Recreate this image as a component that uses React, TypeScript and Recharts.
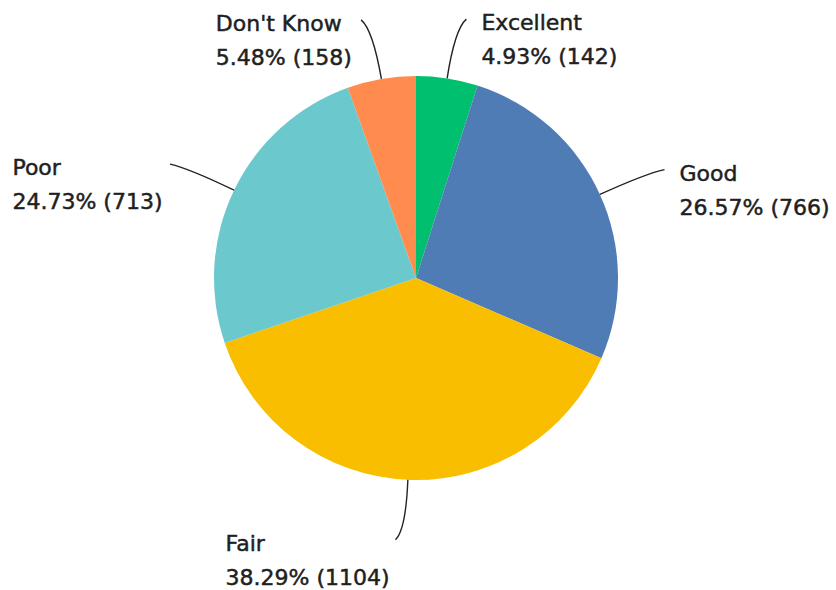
import { PieChart, Pie, Cell } from 'recharts';

const NAMES = ['Excellent', 'Good', 'Fair', 'Poor', "Don't Know"];
const COUNTS = [142, 766, 1104, 713, 158];
const COLORS = ['#00BF6F', '#507CB6', '#F9BE00', '#6BC8CD', '#FF8B4F'];

const data = NAMES.map((name, i) => ({ name, value: COUNTS[i] }));

const RAD = Math.PI / 180;
const FONT = '"DejaVu Sans", sans-serif';

// rough text width so left-side blocks can end near the connector
function approxWidth(s: string): number {
  return s.length * 12.3;
}

function renderLabel(props: any) {
  const { cx, cy, midAngle, outerRadius, name, value, percent } = props;
  const dx = Math.cos(-midAngle * RAD);
  const dy = Math.sin(-midAngle * RAD);
  const right = dx >= 0;
  const p0 = { x: cx + outerRadius * dx, y: cy + outerRadius * dy };
  const c = { x: cx + (outerRadius + 50) * dx, y: cy + (outerRadius + 50) * dy };
  const end = {
    x: cx + (outerRadius + 60) * dx + (right ? 10 : -10),
    y: cy + (outerRadius + 60) * dy,
  };
  const line1 = name;
  const line2 = `${(percent * 100).toFixed(2)}% (${value})`;
  const w = Math.max(approxWidth(line1), approxWidth(line2));
  const tx = right ? end.x + 15 : end.x - 10 - w;
  const ty = end.y + 3;
  return (
    <g>
      <path
        d={`M${p0.x},${p0.y} Q${c.x},${c.y} ${end.x},${end.y}`}
        stroke="#222"
        strokeWidth={1.4}
        fill="none"
      />
      <text
        x={tx}
        y={ty}
        fill="#1f1f1f"
        stroke="#1f1f1f"
        strokeWidth={0.5}
        fontFamily={FONT}
        fontSize={22}
        textAnchor="start"
        dominantBaseline="central"
      >
        <tspan x={tx}>{line1}</tspan>
        <tspan x={tx} dy={34}>{line2}</tspan>
      </text>
    </g>
  );
}

export default function App() {
  return (
    <div style={{ position: 'fixed', left: 0, top: 0, width: 836, height: 590, background: '#fff' }}>
      <PieChart width={836} height={590} margin={{ top: 0, right: 0, bottom: 0, left: 0 }}>
        <Pie
          data={data}
          dataKey="value"
          nameKey="name"
          cx={416}
          cy={278}
          outerRadius={202}
          startAngle={90}
          endAngle={-270}
          stroke="none"
          label={renderLabel}
          labelLine={false}
          isAnimationActive={false}
        >
          {data.map((d, i) => (
            <Cell key={d.name} fill={COLORS[i]} />
          ))}
        </Pie>
      </PieChart>
    </div>
  );
}
